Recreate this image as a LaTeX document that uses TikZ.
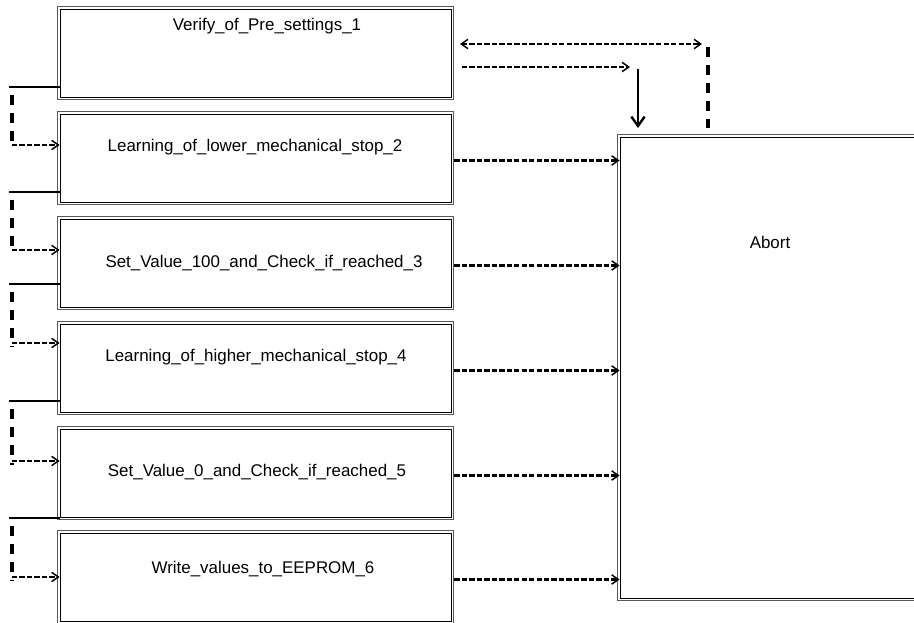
\documentclass[tikz,border=0pt]{standalone}
\usepackage{fontspec}
\setmainfont{Liberation Sans}
\usetikzlibrary{calc, positioning}
\usetikzlibrary{arrows.meta}

\begin{document}
\begin{tikzpicture}[x=0.75pt,y=-0.75pt,
    stagebox/.style={draw=black, line width=0.6pt, inner sep=0pt,
        minimum width=293.25pt, minimum height=66pt},
    outerframe/.style={draw=gray!70!black, line width=0.6pt},
    boxtext/.style={font=\fontsize{12.7}{15}\selectfont, inner sep=0pt},
    barb/.tip={Straight Barb[length=5pt,width=7pt,line width=1.1pt]},
    flow/.style={line width=1.6pt, dash pattern=on 4pt off 1.6pt, -barb},
    bar/.style={line width=2.3pt, dash pattern=on 7.5pt off 6pt}]
\useasboundingbox (0,0) rectangle (914,623);
\clip (0,0) rectangle (914,623);

% stages
\node[stagebox] (b1) at (255.5,53) {};
\node[stagebox] (b2) at (255.5,158) {};
\node[stagebox] (b3) at (255.5,263) {};
\node[stagebox] (b4) at (255.5,368) {};
\node[stagebox] (b5) at (255.5,473) {};
\node[stagebox] (b6) at (255.5,577) {};
\node[stagebox, minimum width=285pt, minimum height=345.75pt] (abort) at (810,367.5) {};

\foreach \b in {b1,b2,b3,b4,b5,b6,abort} {
    \draw[outerframe] ([xshift=-1.5pt,yshift=1.5pt]\b.north west)
        rectangle ([xshift=1.5pt,yshift=-1.5pt]\b.south east);
}

\node[boxtext] (t1) at (267,26) {Verify\_of\_Pre\_settings\_1};
\node[boxtext] (t2) at (255,147) {Learning\_of\_lower\_mechanical\_stop\_2};
\node[boxtext] (t3) at (264,263) {Set\_Value\_100\_and\_Check\_if\_reached\_3};
\node[boxtext] (t4) at (256,357) {Learning\_of\_higher\_mechanical\_stop\_4};
\node[boxtext] (t5) at (257,472) {Set\_Value\_0\_and\_Check\_if\_reached\_5};
\node[boxtext] (t6) at (263,569) {Write\_values\_to\_EEPROM\_6};
\node[boxtext] (ta) at (770,242) {Abort};

% chain on the left
\foreach \i/\j/\ly/\ay in {1/2/87/145, 2/3/192/250, 3/4/284/343, 4/5/401/461, 5/6/518/577} {
    \coordinate (l\i) at (9,\ly);
    \coordinate (in\j) at (12,\ay);
    \draw[line width=1.1pt] (b\i.west |- l\i) -- (l\i);
    \draw[bar] (12,{\ly+8}) -- (12,{\ay+4});
    \draw[flow] (in\j) -- (in\j -| b\j.west);
}

% into abort
\foreach \j in {2,...,6} {
    \coordinate (out\j) at ($(b\j.east)+(3,2.5)$);
    \draw[flow] (out\j) -- (out\j -| abort.west);
}

\coordinate (r1) at (460,44);
\coordinate (r2) at (702,44);
\draw[flow, barb-barb] (r1) -- (r2);
\draw[bar] (708,47) -- (708,128);

\coordinate (s1) at (462,67);
\coordinate (s2) at (630,67);
\draw[flow] (s1) -- (s2);
\draw[line width=0.9pt, -{Straight Barb[length=7pt,width=10pt,line width=1.8pt]}] (638,69) -- (638,128);
\end{tikzpicture}
\end{document}
